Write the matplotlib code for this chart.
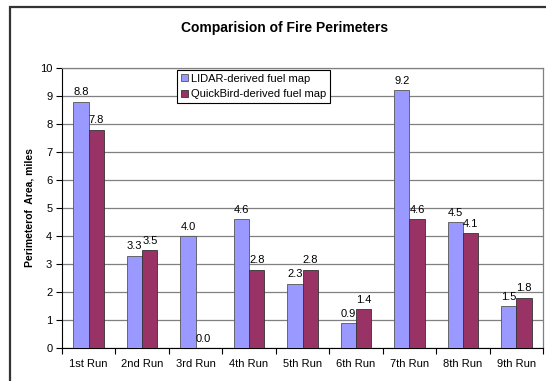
import matplotlib.pyplot as plt
import numpy as np
from matplotlib.patches import Rectangle

plt.rcParams['font.family'] = ['Liberation Sans', 'DejaVu Sans']

runs = ['1st Run', '2nd Run', '3rd Run', '4th Run', '5th Run',
        '6th Run', '7th Run', '8th Run', '9th Run']
lidar = [8.8, 3.3, 4.0, 4.6, 2.3, 0.9, 9.2, 4.5, 1.5]
quickbird = [7.8, 3.5, 0.0, 2.8, 2.8, 1.4, 4.6, 4.1, 1.8]

fig = plt.figure(figsize=(5.46, 3.81), dpi=100)
ax = fig.add_axes([62 / 546, 1 - 348 / 381, 481 / 546, 280 / 381])

# cadre exterieur du graphique
fig.patches.append(Rectangle((10 / 546, -0.05), 1.0, 1 - 7 / 381 + 0.05,
                             transform=fig.transFigure, fill=False,
                             edgecolor='#333333', linewidth=1.6))

x = np.arange(len(runs))
w = 1 / 3.5
b1 = ax.bar(x - w / 2, lidar, w, color='#9999FF', edgecolor='#555555',
            linewidth=0.6, label='LIDAR-derived fuel map', zorder=3)
b2 = ax.bar(x + w / 2, quickbird, w, color='#993366', edgecolor='#333333',
            linewidth=0.6, label='QuickBird-derived fuel map', zorder=3)

for bars, vals in ((b1, lidar), (b2, quickbird)):
    for rect, v in zip(bars, vals):
        ax.annotate(f'{v:.1f}', (rect.get_x() + rect.get_width() / 2, v),
                    textcoords='offset points', xytext=(0, 3),
                    ha='center', va='bottom', fontsize=8)

ax.set_xlim(-0.5, len(runs) - 0.5)
ax.set_ylim(0, 10)
ax.set_yticks(range(0, 11))
ax.yaxis.grid(True, color='#808080', linewidth=0.9, zorder=0)
ax.set_axisbelow(True)

ax.set_xticks(x)
ax.set_xticklabels(runs)
ax.set_xticks(np.arange(-0.5, len(runs)), minor=True)
ax.tick_params(axis='x', which='major', length=0, pad=8, labelsize=8)
ax.tick_params(axis='x', which='minor', length=4, width=0.8, direction='out')
ax.tick_params(axis='y', length=4, width=0.8, labelsize=8, pad=3)

for s in ('top', 'right'):
    ax.spines[s].set_color('#808080')
    ax.spines[s].set_linewidth(0.9)
for s in ('left', 'bottom'):
    ax.spines[s].set_color('black')
    ax.spines[s].set_linewidth(0.8)

ax.set_ylabel('Perimeterof  Area, miles', fontsize=7.5, fontweight='bold',
              labelpad=4)
fig.text(285 / 546, 1 - 28 / 381, 'Comparision of Fire Perimeters',
         ha='center', va='center', fontsize=10, fontweight='bold')

leg = ax.legend(loc='upper left', bbox_to_anchor=(115 / 481, 1 - 2 / 280),
                fontsize=8, frameon=True, fancybox=False, framealpha=1,
                edgecolor='black', handlelength=0.6, handleheight=0.6,
                handletextpad=0.3, borderpad=0.35, labelspacing=0.5,
                borderaxespad=0)
leg.get_frame().set_linewidth(0.8)

fig.savefig('out.png', dpi=100)
